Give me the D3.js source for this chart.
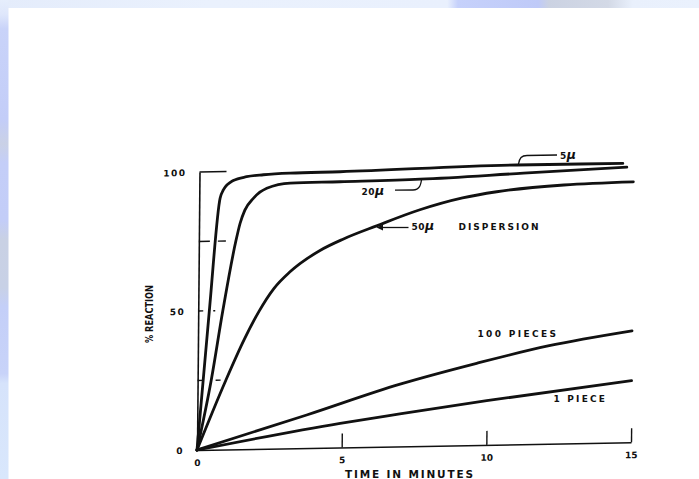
<!DOCTYPE html>
<html>
<head>
<meta charset="utf-8">
<script src="https://cdn.jsdelivr.net/npm/d3@7"></script>
<style>
  body { margin: 0; background: #fff; overflow: hidden; }
  svg text { font-family: "DejaVu Sans", sans-serif; fill: #111; font-weight: bold; }
</style>
</head>
<body>
<div id="chart"></div>
<script>
// -------------------------------------------------------------------------
// % reaction vs. time (minutes) for different particle sizes
// values
// -------------------------------------------------------------------------

var seriesNames = ['5μ', '20μ', '50μ DISPERSION', '100 PIECES', '1 PIECE'];

var time5 = [0, 0.38, 0.72, 0.83, 1.17, 1.63, 2.21, 3.13, 4.86, 10.96, 14.63];
var pct5 = [0, 49.6, 90.4, 93.4, 96.7, 98.0, 98.6, 99.0, 99.2, 100.5, 100.4];

var time20 = [0, 0.47, 0.85, 1.28, 1.42, 1.58, 1.87, 2.33, 3.14, 4.86, 7.63, 11.2, 14.77];
var pct20 = [0, 25, 50, 75, 81.3, 86.0, 90.2, 93.7, 95.4, 95.6, 96.0, 97.5, 99.0];

var time50 = [0, 0.95, 1.6, 2.1, 2.6, 3.16, 4.19, 5.0, 6.14, 7.63, 9.1, 10.28, 12.6, 15];
var pct50 = [0, 24.3, 39.5, 49.5, 57.5, 63.5, 71.0, 75.0, 79.5, 85.0, 89.0, 91.0, 93.0, 93.7];

var time100 = [0, 3.78, 7.0, 9.64, 12.1, 15];
var pct100 = [0, 11.9, 22.4, 29.4, 35.2, 40.1];

var time1 = [0, 4.94, 7.0, 10.0, 15];
var pct1 = [0, 8.7, 11.7, 15.9, 22.2];

var xTicks = [0, 5, 10, 15];
var yTicks = [0, 50, 100];
var yInnerTicks = [25, 50, 75, 100];

// SVG area
var svgWidth = 699;
var svgHeight = 479;

var svg = d3.select('#chart')
  .append('svg')
  .attr('width', svgWidth)
  .attr('height', svgHeight);

// slide frame (blue strips along the top and the left edge)
var defs = svg.append('defs');

var topGrad = defs.append('linearGradient').attr('id', 'topGrad')
  .attr('x1', 0).attr('x2', 1).attr('y1', 0).attr('y2', 0);
[[0, '#e4ecfb'], [0.3, '#eaf1fd'], [0.64, '#e9f0fd'], [0.655, '#c6d1fb'],
 [0.77, '#bfcaf8'], [0.785, '#cbd2e2'], [0.87, '#d3d9e6'], [0.905, '#e9f0fc'], [1, '#eaf1fd']]
  .forEach(function(s) { topGrad.append('stop').attr('offset', s[0]).attr('stop-color', s[1]); });

var leftGrad = defs.append('linearGradient').attr('id', 'leftGrad')
  .attr('x1', 0).attr('x2', 0).attr('y1', 0).attr('y2', 1);
[[0, '#e6eefc'], [0.03, '#dfe7fb'], [0.06, '#c9d3f9'], [0.25, '#c3cdf8'], [0.3, '#cad1e6'],
 [0.34, '#c4cef8'], [0.46, '#c3cdf8'], [0.5, '#c9d1e4'], [0.6, '#c8d1e6'], [0.64, '#c4cff8'],
 [0.78, '#c8d3f9'], [0.8, '#d6e3fb'], [1, '#d9e7fc']]
  .forEach(function(s) { leftGrad.append('stop').attr('offset', s[0]).attr('stop-color', s[1]); });

svg.append('rect').attr('width', svgWidth).attr('height', svgHeight).attr('fill', '#fff');
svg.append('rect').attr('width', svgWidth).attr('height', 8).attr('fill', 'url(#topGrad)');
svg.append('rect').attr('width', 8.5).attr('height', svgHeight).attr('fill', 'url(#leftGrad)');

// chart dimensions
var chartWidth = 434;
var chartHeight = 278;

var xScale = d3.scaleLinear().domain([0, 15]).range([0, chartWidth]);
var yScale = d3.scaleLinear().domain([0, 100]).range([0, -chartHeight]);

// the scan is slightly skewed, so the plot group is too
var chartGroup = svg.append('g')
  .attr('transform', 'matrix(1,-0.0177,-0.009,1,197,450)');

// x axis: ticks pointing up, labels below
var xAxisG = chartGroup.append('g')
  .call(d3.axisBottom(xScale).tickValues(xTicks).tickSize(-14).tickSizeOuter(0).tickPadding(9.5));
xAxisG.attr('font-family', null).attr('font-size', null);
xAxisG.select('.domain').attr('stroke', '#111').attr('stroke-width', 1.6);
xAxisG.selectAll('.tick line').attr('stroke', '#111').attr('stroke-width', 1.4);
xAxisG.selectAll('.tick text').style('font-size', '9px').attr('fill', '#111');

// y axis: only labels and the axis line
var yAxisG = chartGroup.append('g')
  .call(d3.axisLeft(yScale).tickValues(yTicks).tickSize(0).tickSizeOuter(0).tickPadding(13));
yAxisG.attr('font-family', null).attr('font-size', null);
yAxisG.select('.domain').attr('stroke', '#111').attr('stroke-width', 1.6);
yAxisG.selectAll('.tick text').style('font-size', '9px').style('letter-spacing', '1.5px')
  .attr('fill', '#111').attr('dy', '0.36em');

// inner ticks on the y axis (solid at 100, dashed below)
function tickDash(v) {
  if (v === 100) return null;
  if (v === 75) return '11 8 9';
  if (v === 50) return '5 10 2 50';
  return '5 13 5 50';
}
function tickLen(v) {
  if (v === 50) return 17;
  if (v === 25) return 23;
  return 27;
}
chartGroup.selectAll('.inner-tick')
  .data(yInnerTicks)
  .enter()
  .append('line')
  .attr('class', 'inner-tick')
  .attr('x1', 0)
  .attr('x2', d => tickLen(d))
  .attr('y1', d => yScale(d))
  .attr('y2', d => yScale(d))
  .attr('stroke', '#111')
  .attr('stroke-width', 1.4)
  .attr('stroke-dasharray', d => tickDash(d));

// curves
var series = [
  { name: seriesNames[0], t: time5, p: pct5 },
  { name: seriesNames[1], t: time20, p: pct20 },
  { name: seriesNames[2], t: time50, p: pct50 },
  { name: seriesNames[3], t: time100, p: pct100 },
  { name: seriesNames[4], t: time1, p: pct1 }
];

var line = d3.line()
  .x(d => xScale(d[0]))
  .y(d => yScale(d[1]))
  .curve(d3.curveMonotoneX);

chartGroup.selectAll('.curve')
  .data(series)
  .enter()
  .append('path')
  .attr('class', 'curve')
  .attr('d', d => line(d.t.map((t, i) => [t, d.p[i]])))
  .attr('fill', 'none')
  .attr('stroke', '#111')
  .attr('stroke-width', 2.8)
  .attr('stroke-linecap', 'round')
  .attr('stroke-linejoin', 'round');

// labels and leaders
var leaders = svg.append('g')
  .attr('fill', 'none')
  .attr('stroke', '#111')
  .attr('stroke-width', 1.3);

leaders.append('path').attr('d', 'M518.5,164 C519.5,158 521.5,155.5 527,155.5 L557,155');
leaders.append('path').attr('d', 'M421.7,178 C421,185 419.5,190 413,190 L395,190.2');
leaders.append('path').attr('d', 'M408.5,227.5 L381,227.5');
svg.append('path').attr('d', 'M376.5,227.5 L383,224.5 L383,230.5 Z').attr('fill', '#111');

function muLabel(num, x, y) {
  var t = svg.append('text').attr('x', x).attr('y', y).style('font-size', '9px');
  t.append('tspan').text(num).style('letter-spacing', '0.5px');
  t.append('tspan').text('μ').style('font-size', '12.5px').style('font-style', 'italic');
  return t;
}
muLabel('5', 560, 158.5);
muLabel('20', 361.5, 194.5);
muLabel('50', 411.5, 229.5);

svg.append('text').attr('x', 458.5).attr('y', 229.5).text('DISPERSION')
  .style('font-size', '9px').attr('textLength', 80).attr('lengthAdjust', 'spacing');
svg.append('text').attr('x', 477.5).attr('y', 337).text('100 PIECES')
  .style('font-size', '9px').attr('textLength', 78.5).attr('lengthAdjust', 'spacing');
svg.append('text').attr('x', 553.5).attr('y', 402).text('1 PIECE')
  .style('font-size', '9px').attr('textLength', 51.5).attr('lengthAdjust', 'spacing');

// axis titles
svg.append('text')
  .attr('transform', 'translate(152.5,314) rotate(-90)')
  .attr('text-anchor', 'middle')
  .style('font-family', '"DejaVu Sans Condensed", "DejaVu Sans", sans-serif')
  .style('font-size', '10.5px')
  .attr('textLength', 58)
  .attr('lengthAdjust', 'spacingAndGlyphs')
  .text('% REACTION');

svg.append('text').attr('x', 345).attr('y', 477.5).text('TIME IN MINUTES')
  .style('font-size', '10.5px').attr('textLength', 128).attr('lengthAdjust', 'spacing');
</script>
</body>
</html>
